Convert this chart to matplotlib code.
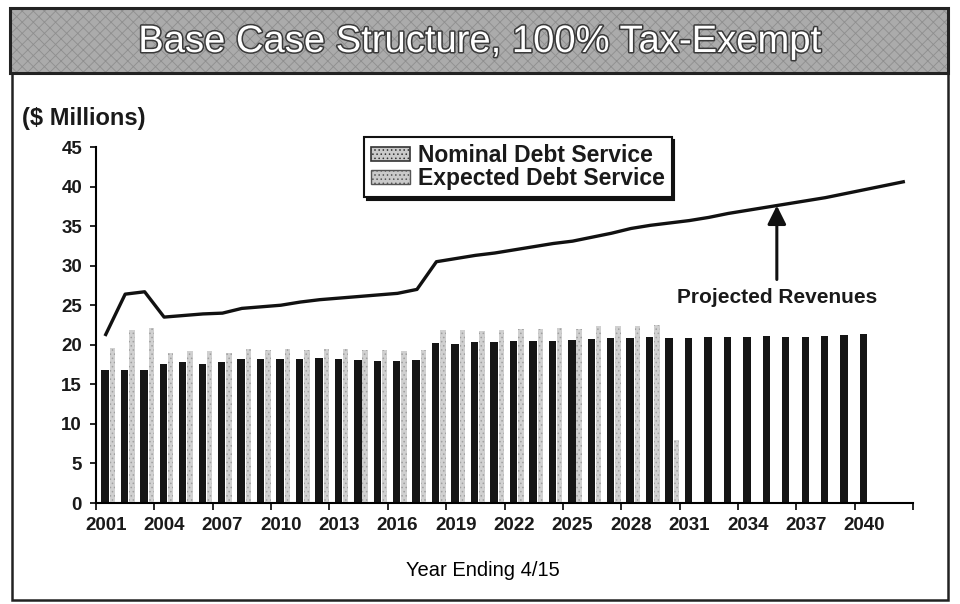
import matplotlib
matplotlib.use('Agg')
import matplotlib.pyplot as plt
import matplotlib.patheffects as pe
from matplotlib.patches import Rectangle, Patch
import numpy as np

plt.rcParams['font.family'] = ['Liberation Sans', 'DejaVu Sans']
plt.rcParams['hatch.linewidth'] = 0.6

years = list(range(2001, 2043))

nominal = [16.8, 16.8, 16.8, 17.6, 17.8, 17.6, 17.8, 18.2, 18.2, 18.2,
           18.2, 18.3, 18.2, 18.1, 18.0, 18.0, 18.1, 20.2, 20.1, 20.3,
           20.3, 20.5, 20.5, 20.5, 20.6, 20.7, 20.9, 20.8, 21.0, 20.9,
           20.9, 21.0, 21.0, 21.0, 21.1, 21.0, 21.0, 21.1, 21.2, 21.4]

expected = [19.6, 21.9, 22.1, 19.0, 19.2, 19.2, 19.0, 19.5, 19.3, 19.5,
            19.3, 19.5, 19.5, 19.3, 19.3, 19.2, 19.3, 21.9, 21.9, 21.8,
            21.9, 22.0, 22.0, 22.1, 22.0, 22.4, 22.4, 22.4, 22.5, 8.0]

revenues = [21.3, 26.4, 26.7, 23.5, 23.7, 23.9, 24.0, 24.6, 24.8, 25.0,
            25.4, 25.7, 25.9, 26.1, 26.3, 26.5, 27.0, 30.5, 30.9, 31.3,
            31.6, 32.0, 32.4, 32.8, 33.1, 33.6, 34.1, 34.7, 35.1, 35.4,
            35.7, 36.1, 36.6, 37.0, 37.4, 37.8, 38.2, 38.6, 39.1, 39.6,
            40.1, 40.6]

W, H = 960, 604
fig = plt.figure(figsize=(W / 100, H / 100), dpi=100)
fig.patch.set_facecolor('white')


def fx(px):
    return px / W


def fy(py):
    return 1 - py / H


# title banner
fig.add_artist(Rectangle((fx(10), fy(73)), fx(938), 65 / H, transform=fig.transFigure,
                         facecolor='#ababab', edgecolor='#8e8e8e', hatch='xxx',
                         lw=0, zorder=0))
fig.add_artist(Rectangle((fx(10), fy(73)), fx(938), 65 / H, transform=fig.transFigure,
                         facecolor='none', edgecolor='#222222', lw=2.2, zorder=1))
# lower panel frame
fig.add_artist(Rectangle((fx(12), fy(600)), fx(936), 527 / H, transform=fig.transFigure,
                         facecolor='none', edgecolor='#222222', lw=1.8, zorder=1))

fig.text(0.5, fy(42), 'Base Case Structure, 100% Tax-Exempt', ha='center', va='center',
         fontsize=27.5, color='white',
         path_effects=[pe.withStroke(linewidth=2.2, foreground='#3a3a3a')])

ax = fig.add_axes([fx(96), fy(503), (913 - 96) / W, (503 - 147) / H])
x = np.arange(len(years))

ax.bar(x[:len(nominal)] - 0.04, nominal, width=0.38, color='#151515', zorder=2)
ax.bar(x[:len(expected)] + 0.34, expected, width=0.28, color='#d0d0d0',
       edgecolor='#a0a0a0', hatch='....', lw=0, zorder=2)
ax.plot(x, revenues, color='#111111', lw=2.4, zorder=3)

ax.set_xlim(-0.5, len(years) - 0.5)
ax.set_ylim(0, 45)
ax.set_yticks(range(0, 46, 5))
ax.tick_params(axis='y', direction='out', length=4, width=1.2, labelsize=13.5, pad=6)

label_idx = list(range(0, 40, 3))
ax.set_xticks(label_idx)
ax.set_xticklabels([str(years[i]) for i in label_idx])
ax.set_xticks(np.arange(-0.5, len(years), 3), minor=True)
ax.tick_params(axis='x', which='major', length=0, labelsize=13.5, pad=10)
ax.tick_params(axis='x', which='minor', direction='out', length=5, width=1.2)
for lab in ax.get_xticklabels() + ax.get_yticklabels():
    lab.set_fontweight('bold')
    lab.set_color('#1a1a1a')

for s in ['top', 'right']:
    ax.spines[s].set_visible(False)
for s in ['left', 'bottom']:
    ax.spines[s].set_linewidth(1.5)
ax.set_facecolor('none')

ax.annotate('Projected Revenues', xy=(34.5, 37.6), xytext=(34.5, 26.0),
            ha='center', va='center', fontsize=15, fontweight='bold', color='#1a1a1a',
            arrowprops=dict(arrowstyle='-|>', lw=2.2, color='#111111',
                            mutation_scale=28, shrinkA=4, shrinkB=0))

fig.text(fx(22), fy(118), '($ Millions)', ha='left', va='center', fontsize=17,
         fontweight='bold', color='#1a1a1a')
fig.text(fx(483), fy(571), 'Year Ending 4/15', ha='center', va='center', fontsize=14.5)

handles = [Patch(facecolor='#cacaca', edgecolor='#333333', hatch='....', lw=1.2),
           Patch(facecolor='#cacaca', edgecolor='#555555', hatch='....', lw=1.0)]
leg = fig.legend(handles, ['Nominal Debt Service', 'Expected Debt Service'],
                 loc='upper left', bbox_to_anchor=(fx(364), fy(137)), borderaxespad=0,
                 prop={'size': 16.5, 'weight': 'bold'}, frameon=True, fancybox=False,
                 edgecolor='#111111', shadow={'color': '#111111', 'alpha': 1},
                 handlelength=1.7, handleheight=0.6, borderpad=0.3,
                 labelspacing=0.0, handletextpad=0.35)
leg.get_frame().set_linewidth(1.5)
for t in leg.get_texts():
    t.set_color('#1a1a1a')

fig.savefig('out.png', dpi=100)
